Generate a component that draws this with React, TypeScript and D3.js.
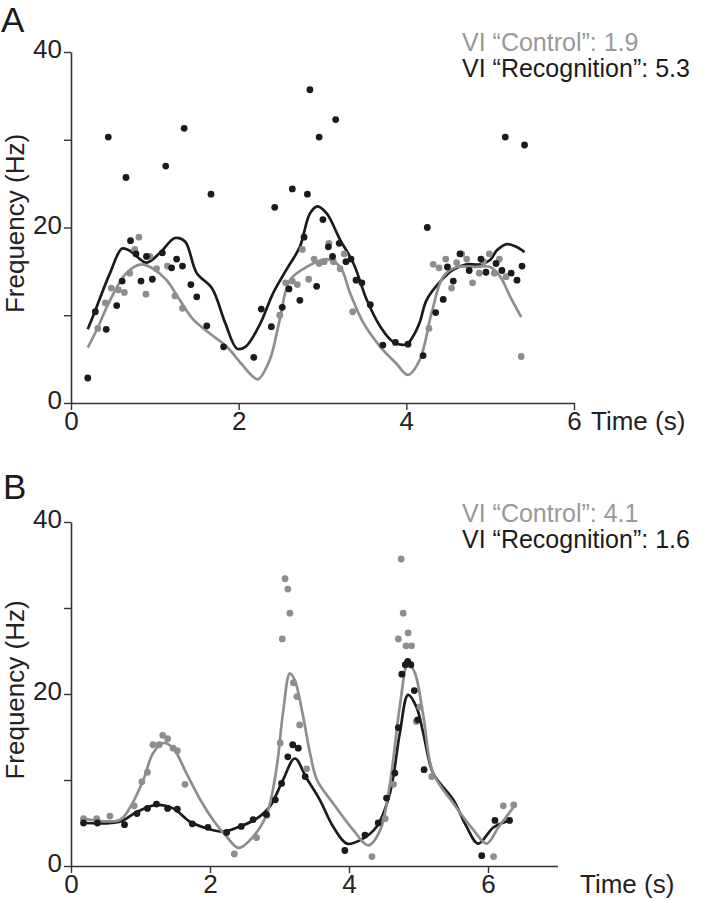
import { useEffect, useRef } from 'react';
import * as d3 from 'd3';

type Pt = [number, number];

// axis ticks
const yTicks = [0, 10, 20, 30, 40];
const yTickLabels = ['0', '', '20', '', '40'];
const xTicks = [0, 2, 4, 6];

// legends (variability index)
const legendA = ['VI “Control”: 1.9', 'VI “Recognition”: 5.3'];
const legendB = ['VI “Control”: 4.1', 'VI “Recognition”: 1.6'];

// Panel A - recognition (black)
const dotsRecA: Pt[] = [
  [0.2, 2.85], [0.29, 10.4], [0.42, 8.4], [0.445, 30.3], [0.545, 11.1], [0.61, 13.9], [0.656, 25.7],
  [0.71, 18.5], [0.775, 17.0], [0.835, 13.9], [0.9, 16.7], [0.97, 14.1], [1.09, 17.1], [1.13, 27.0],
  [1.2, 15.4], [1.26, 16.4], [1.33, 15.6], [1.35, 31.3], [1.43, 13.5], [1.5, 12.1], [1.62, 8.8],
  [1.67, 23.8], [1.82, 6.4], [2.18, 5.2], [2.27, 10.7], [2.39, 8.7], [2.43, 22.3], [2.52, 10.9],
  [2.6, 13.0], [2.64, 24.4], [2.73, 11.7], [2.78, 18.9], [2.82, 23.8], [2.85, 35.7], [2.93, 13.3],
  [2.96, 30.3], [3.005, 20.9], [3.07, 17.8], [3.12, 16.7], [3.157, 32.3], [3.2, 18.2], [3.28, 16.1],
  [3.34, 16.4], [3.4, 14.0], [3.47, 13.7], [3.57, 11.2], [3.72, 6.6], [3.87, 6.9], [4.02, 6.7],
  [4.2, 5.4], [4.25, 20.0], [4.35, 10.3], [4.44, 11.8], [4.49, 15.5], [4.56, 13.9], [4.64, 17.0],
  [4.75, 15.1], [4.89, 16.4], [4.95, 14.9], [5.07, 15.9], [5.14, 15.1], [5.18, 30.3], [5.25, 14.8],
  [5.32, 14.0], [5.38, 15.6], [5.41, 29.4],
];
const lineRecA: Pt[] = [
  [0.2, 8.4], [0.28, 10.3], [0.465, 14.8], [0.61, 17.6], [0.71, 17.3], [0.9, 16.0], [1.06, 17.1],
  [1.24, 18.8], [1.36, 18.4], [1.5, 14.8], [1.68, 13.1], [1.84, 9.1], [1.98, 6.2], [2.08, 6.4],
  [2.25, 8.9], [2.41, 12.5], [2.57, 15.2], [2.73, 17.8], [2.85, 21.6], [2.94, 22.4], [3.05, 21.6],
  [3.21, 18.6], [3.37, 15.9], [3.53, 11.7], [3.69, 8.7], [3.84, 7.0], [4.0, 6.7], [4.08, 7.6],
  [4.16, 9.2], [4.24, 11.7], [4.4, 13.8], [4.56, 15.2], [4.72, 15.8], [4.88, 15.8], [5.0, 16.3],
  [5.08, 17.4], [5.2, 18.1], [5.31, 17.8], [5.41, 17.2],
];

// Panel A - control (gray)
const dotsCtlA: Pt[] = [
  [0.32, 8.5], [0.41, 11.4], [0.48, 13.1], [0.565, 12.9], [0.636, 12.6], [0.7, 14.8], [0.76, 17.5],
  [0.81, 18.9], [0.894, 12.4], [0.94, 16.7], [1.02, 15.3], [1.15, 15.6], [1.24, 12.2], [1.33, 10.8],
  [2.49, 10.0], [2.56, 13.7], [2.64, 13.9], [2.7, 13.5], [2.76, 17.5], [2.835, 14.1], [2.9, 16.4],
  [2.96, 15.9], [3.02, 16.1], [3.077, 18.2], [3.13, 16.1], [3.21, 15.3], [3.26, 17.0], [3.36, 10.4],
  [4.27, 8.5], [4.32, 15.8], [4.39, 15.4], [4.47, 16.4], [4.54, 13.1], [4.6, 16.0], [4.66, 17.0],
  [4.72, 16.4], [4.79, 13.7], [4.87, 14.8], [4.92, 16.1], [4.99, 17.0], [5.05, 14.8], [5.11, 16.4],
  [5.19, 14.4], [5.37, 5.3],
];
const lineCtlA: Pt[] = [
  [0.2, 6.3], [0.31, 8.4], [0.465, 11.7], [0.66, 14.8], [0.84, 15.8], [0.98, 15.3], [1.14, 14.0],
  [1.3, 11.7], [1.46, 9.5], [1.66, 7.9], [1.86, 6.4], [2.02, 4.6], [2.17, 3.0], [2.23, 2.7],
  [2.37, 4.9], [2.49, 9.5], [2.61, 14.0], [2.81, 15.5], [3.05, 16.4], [3.21, 15.5], [3.33, 12.5],
  [3.49, 9.1], [3.69, 6.4], [3.88, 4.5], [4.02, 3.2], [4.16, 4.9], [4.3, 10.2], [4.44, 14.4],
  [4.6, 15.5], [4.8, 15.5], [5.0, 15.5], [5.12, 14.4], [5.24, 12.1], [5.37, 9.8],
];

// Panel B - recognition (black)
const dotsRecB: Pt[] = [
  [0.18, 5.0], [0.38, 5.0], [0.77, 4.8], [0.95, 6.1], [1.1, 6.7], [1.23, 7.2], [1.39, 6.7],
  [1.53, 6.6], [1.745, 4.9], [1.97, 4.5], [2.24, 3.9], [2.45, 4.6], [2.62, 5.4], [2.81, 6.0],
  [2.94, 7.7], [3.03, 9.6], [3.12, 12.7], [3.19, 14.1], [3.27, 13.7], [3.37, 10.4], [3.94, 1.8],
  [4.23, 3.6], [4.42, 5.0], [4.54, 7.9], [4.66, 10.8], [4.71, 16.1], [4.76, 22.3], [4.81, 23.4],
  [4.845, 23.8], [4.89, 23.4], [4.94, 20.4], [4.99, 17.0], [5.08, 11.2], [5.91, 1.2], [6.1, 5.3],
  [6.31, 5.3],
];
const lineRecB: Pt[] = [
  [0.18, 5.0], [0.7, 5.15], [0.95, 6.3], [1.23, 7.1], [1.47, 6.7], [1.71, 5.15], [1.95, 4.4],
  [2.19, 4.0], [2.43, 4.6], [2.67, 5.5], [2.86, 6.9], [3.05, 10.0], [3.22, 12.5], [3.39, 10.2],
  [3.58, 7.7], [3.77, 4.6], [3.97, 2.6], [4.16, 3.0], [4.4, 4.6], [4.59, 8.5], [4.73, 15.4],
  [4.85, 19.9], [4.97, 18.5], [5.07, 15.4], [5.21, 10.8], [5.5, 7.7], [5.69, 4.6], [5.86, 2.6],
  [6.08, 4.5], [6.34, 5.35],
];

// Panel B - control (gray)
const dotsCtlB: Pt[] = [
  [0.18, 5.5], [0.37, 5.5], [0.56, 5.8], [0.91, 7.0], [1.02, 9.8], [1.1, 10.9], [1.18, 14.1],
  [1.27, 14.1], [1.32, 15.2], [1.39, 14.8], [1.47, 13.7], [1.53, 13.4], [1.64, 9.5], [2.35, 1.4],
  [2.67, 3.3], [2.82, 5.9], [3.01, 14.3], [3.04, 26.4], [3.08, 33.4], [3.12, 32.2], [3.15, 29.4],
  [3.2, 21.3], [3.25, 19.7], [3.29, 16.4], [3.39, 11.3], [4.33, 1.1], [4.52, 5.5], [4.64, 9.5],
  [4.71, 26.4], [4.75, 35.7], [4.78, 29.4], [4.82, 25.6], [4.85, 27.1], [4.9, 25.6], [4.97, 16.8],
  [5.02, 18.5], [5.19, 10.4], [6.08, 1.1], [6.22, 7.0], [6.37, 7.1],
];
const lineCtlB: Pt[] = [
  [0.18, 5.5], [0.7, 5.35], [0.87, 7.1], [1.04, 10.0], [1.18, 13.1], [1.33, 14.3], [1.47, 13.7],
  [1.66, 10.8], [1.86, 7.7], [2.05, 5.3], [2.24, 3.4], [2.41, 2.1], [2.62, 3.4], [2.82, 6.1],
  [2.96, 11.5], [3.05, 17.8], [3.15, 22.4], [3.22, 21.6], [3.34, 17.4], [3.44, 13.1], [3.54, 10.0],
  [3.77, 7.3], [4.06, 4.2], [4.28, 2.4], [4.45, 4.2], [4.59, 9.6], [4.73, 18.5], [4.85, 23.6],
  [4.95, 22.4], [5.07, 17.4], [5.21, 10.8], [5.5, 7.3], [5.79, 4.2], [5.98, 2.6], [6.15, 4.5],
  [6.39, 7.1],
];

const BLACK = '#1b1b1b';
const GRAY = '#8e8e8e';
const AXIS = '#333';
const FONT = "'Liberation Sans', Arial, Helvetica, sans-serif";

interface PanelOpts {
  letter: string;
  letterX: number;
  letterY: number;
  x: d3.ScaleLinear<number, number>;
  y: d3.ScaleLinear<number, number>;
  legend: string[];
  legendY: number;
  timeX: number;
  ctlDots: Pt[];
  ctlLine: Pt[];
  recDots: Pt[];
  recLine: Pt[];
}

function drawPanel(svg: d3.Selection<SVGSVGElement, unknown, null, undefined>, o: PanelOpts) {
  const g = svg.append('g');
  const { x, y } = o;

  // panel letter
  g.append('text')
    .attr('x', o.letterX)
    .attr('y', o.letterY)
    .style('font-family', FONT)
    .style('font-size', '35px')
    .style('fill', BLACK)
    .text(o.letter);

  // y axis
  const yAxis = g
    .append('g')
    .attr('transform', `translate(${x(0)},0)`)
    .call(
      d3
        .axisLeft(y)
        .tickValues(yTicks)
        .tickSize(7)
        .tickSizeOuter(0)
        .tickPadding(2)
        .tickFormat((_d, i) => yTickLabels[i])
    );

  // x axis
  const xAxis = g
    .append('g')
    .attr('transform', `translate(0,${y(0)})`)
    .call(d3.axisBottom(x).tickValues(xTicks).tickSize(7).tickSizeOuter(0).tickPadding(2).tickFormat(d3.format('d')));

  [yAxis, xAxis].forEach((ax) => {
    ax.select('.domain').attr('stroke', AXIS).attr('stroke-width', 1.6);
    ax.selectAll('.tick line').attr('stroke', AXIS).attr('stroke-width', 1.4);
    ax.selectAll('.tick text')
      .style('font-family', FONT)
      .style('font-size', '26px')
      .style('fill', '#222');
  });
  yAxis.selectAll('.tick text').attr('dy', '0.22em');

  // axis titles
  g.append('text')
    .attr('transform', `translate(24,${(y(0) + y(40)) / 2 - 4}) rotate(-90)`)
    .attr('text-anchor', 'middle')
    .style('font-family', FONT)
    .style('font-size', '26px')
    .style('fill', '#222')
    .text('Frequency (Hz)');

  g.append('text')
    .attr('x', o.timeX)
    .attr('y', y(0) + 9)
    .attr('dy', '0.71em')
    .style('font-family', FONT)
    .style('font-size', '26px')
    .style('fill', '#222')
    .text('Time (s)');

  // legend
  o.legend.forEach((t, i) => {
    g.append('text')
      .attr('x', 462)
      .attr('y', o.legendY + i * 26)
      .style('font-family', FONT)
      .style('font-size', '25px')
      .style('fill', i === 0 ? '#999' : BLACK)
      .text(t);
  });

  const line = d3
    .line<Pt>()
    .x((d) => x(d[0]))
    .y((d) => y(d[1]))
    .curve(d3.curveCatmullRom.alpha(0.5));

  g.append('path')
    .datum(o.recLine)
    .attr('fill', 'none')
    .attr('stroke', BLACK)
    .attr('stroke-width', 2.7)
    .attr('d', line);

  g.append('path')
    .datum(o.ctlLine)
    .attr('fill', 'none')
    .attr('stroke', GRAY)
    .attr('stroke-width', 2.7)
    .attr('d', line);

  g.append('g')
    .selectAll('circle')
    .data(o.ctlDots)
    .join('circle')
    .attr('cx', (d) => x(d[0]))
    .attr('cy', (d) => y(d[1]))
    .attr('r', 3.4)
    .attr('fill', GRAY);

  g.append('g')
    .selectAll('circle')
    .data(o.recDots)
    .join('circle')
    .attr('cx', (d) => x(d[0]))
    .attr('cy', (d) => y(d[1]))
    .attr('r', 3.4)
    .attr('fill', BLACK);
}

export default function App() {
  const svgRef = useRef<SVGSVGElement>(null);

  useEffect(() => {
    if (!svgRef.current) return;
    const svg = d3.select(svgRef.current);
    svg.selectAll('*').remove();

    drawPanel(svg, {
      letter: 'A',
      letterX: 1,
      letterY: 32,
      x: d3.scaleLinear().domain([0, 6]).range([71, 574]),
      y: d3.scaleLinear().domain([0, 40]).range([403, 52]),
      legend: legendA,
      legendY: 51,
      timeX: 591,
      ctlDots: dotsCtlA,
      ctlLine: lineCtlA,
      recDots: dotsRecA,
      recLine: lineRecA,
    });

    drawPanel(svg, {
      letter: 'B',
      letterX: 3,
      letterY: 499,
      x: d3.scaleLinear().domain([0, 7]).range([71, 557.5]),
      y: d3.scaleLinear().domain([0, 40]).range([866, 522]),
      legend: legendB,
      legendY: 522,
      timeX: 580,
      ctlDots: dotsCtlB,
      ctlLine: lineCtlB,
      recDots: dotsRecB,
      recLine: lineRecB,
    });
  }, []);

  return (
    <svg
      ref={svgRef}
      width={703}
      height={900}
      style={{ position: 'absolute', left: 0, top: 0, background: '#fff' }}
    />
  );
}
